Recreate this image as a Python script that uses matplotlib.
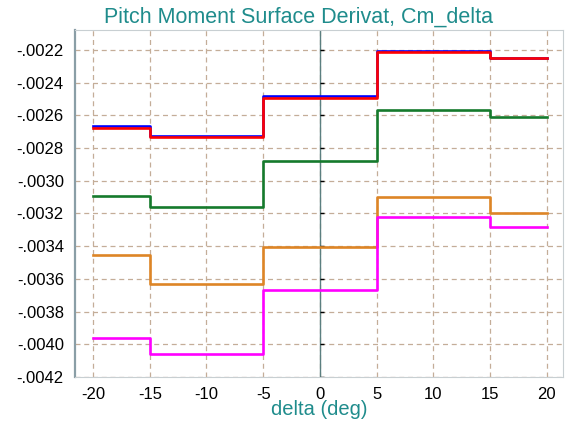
import matplotlib
matplotlib.use('Agg')
import matplotlib.pyplot as plt
import matplotlib.markers as mmarkers
from matplotlib.ticker import FuncFormatter

plt.rcParams['font.family'] = ['Liberation Sans', 'DejaVu Sans']
plt.rcParams['axes.unicode_minus'] = False

# step edges (deg) and Cm_delta per segment
delta_edges = [-20, -15, -5, 5, 15, 20]
cm_blue = [-0.002665, -0.002727, -0.002484, -0.002206, -0.002247]
cm_red = [-0.002677, -0.002735, -0.002491, -0.002212, -0.002247]
cm_green = [-0.003091, -0.003158, -0.002882, -0.002567, -0.002608]
cm_orange = [-0.003455, -0.003631, -0.003402, -0.003098, -0.003196]
cm_magenta = [-0.003959, -0.004057, -0.003665, -0.003221, -0.003280]

series = [
    (cm_blue, '#0000ff'),
    (cm_red, '#ff0000'),
    (cm_green, '#157a2c'),
    (cm_orange, '#dd8526'),
    (cm_magenta, '#ff00ff'),
]

yticks = [-0.0042 + 0.0002 * i for i in range(11)]
xticks = [-20, -15, -10, -5, 0, 5, 10, 15, 20]

fig = plt.figure(figsize=(5.65, 4.22), dpi=100)
ax = fig.add_axes([0.1327, 0.1066, 0.8638, 0.8223])

teal = '#1f8c8c'
grid_col = '#c4ad98'

ax.set_xlim(-21.6, 21.45)
ax.set_ylim(-0.0042, -0.002078)
ax.set_xticks(xticks)
ax.set_yticks(yticks)
ax.yaxis.set_major_formatter(FuncFormatter(lambda v, p: ('%.4f' % v).replace('0.', '.')))
ax.tick_params(length=0, labelsize=12, pad=8)
ax.tick_params(axis='x', pad=7)
ax.grid(True, color=grid_col, linestyle=(0, (4, 3)), linewidth=0.9)

for side in ['top', 'right', 'bottom']:
    ax.spines[side].set_color('#c8cfd2')
    ax.spines[side].set_linewidth(0.8)
ax.spines['left'].set_color('#8a9ea6')
ax.spines['left'].set_linewidth(1.6)

# zero line with small ticks
ax.axvline(0, color='#5b7f80', linewidth=1.0, zorder=2)
ax.plot([0] * len(yticks), yticks, linestyle='none', marker=mmarkers.TICKRIGHT,
        markersize=3, color='black', zorder=2)

for vals, col in series:
    ax.step(delta_edges, vals + [vals[-1]], where='post', color=col,
            linewidth=1.9, zorder=3)

ax.set_title('Pitch Moment Surface Derivat, Cm_delta', color=teal, fontsize=15.5,
             pad=5, x=0.458)
ax.set_xlabel('delta (deg)', color=teal, fontsize=14.5, labelpad=-1)

fig.savefig('out.png', dpi=100)
